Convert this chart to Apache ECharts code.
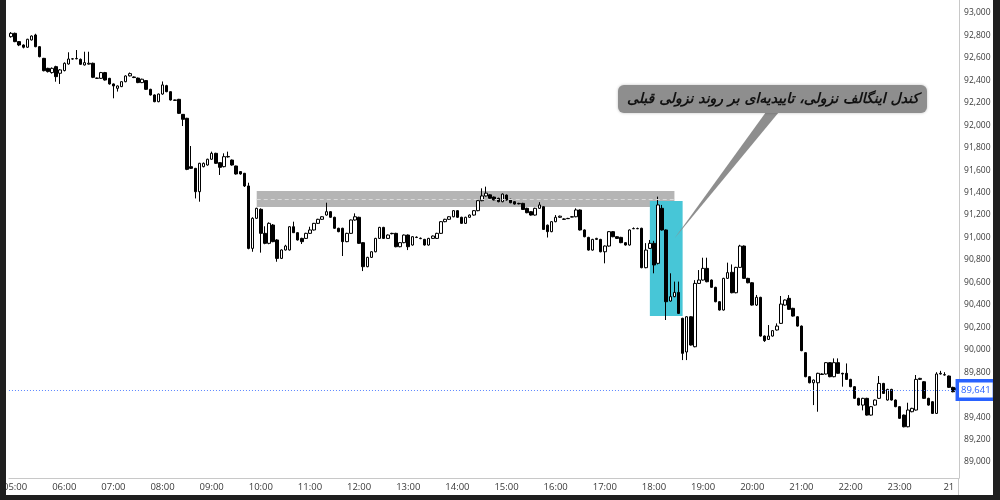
<!DOCTYPE html>
<html>
<head>
<meta charset="utf-8">
<script src="https://cdn.jsdelivr.net/npm/echarts@6/dist/echarts.min.js"></script>
<style>
  html, body { margin: 0; padding: 0; background: #fff; }
  #chart { width: 1000px; height: 500px; }
</style>
</head>
<body>
<div id="chart"></div>
<script>
// ---- DATA (5-minute candles, 04:55 -> 00:10) ----
const startMinute = 4 * 60 + 55;
const candleStep = 5;

const opens = [92789,92819,92745,92715,92695,92760,92804,92700,92596,92507,
92469,92522,92463,92487,92546,92590,92595,92587,92537,92545,
92552,92420,92418,92469,92418,92368,92329,92344,92388,92440,
92430,92420,92380,92398,92320,92270,92210,92278,92353,92299,
92225,92231,92097,92062,91631,91616,91408,91631,91646,91697,
91750,91667,91631,91718,91690,91637,91587,91572,91459,90903,
91171,91251,91037,90948,91111,90978,90814,90889,90889,91096,
91043,90992,90992,91037,91067,91126,91162,91200,91230,91180,
91082,91082,90963,91037,91156,91180,90954,90740,90823,90873,
90992,91090,90992,91037,91037,90918,90954,91022,90933,91003,
90993,90983,90933,90992,90992,91037,91141,91162,91185,91239,
91180,91126,91180,91200,91239,91328,91370,91380,91360,91349,
91319,91378,91340,91319,91304,91304,91260,91230,91200,91260,
91274,91110,91052,91141,91180,91165,91168,91182,91185,91245,
91067,91001,90888,90983,90983,90873,90924,91052,91007,91001,
90954,90933,91078,91078,91082,90731,90903,90948,90770,91260,
91067,90434,90473,90511,90280,89980,90294,90027,90591,90621,
90725,90621,90556,90428,90354,90636,90690,90508,90734,90924,
90636,90597,90398,90467,90122,90092,90122,90176,90235,90398,
90458,90369,90294,90211,89974,89760,89706,89706,89784,89784,
89885,89760,89885,89790,89790,89736,89671,89567,89507,89567,
89418,89507,89567,89700,89552,89647,89552,89493,89418,89314,
89448,89463,89736,89715,89567,89537,89433,89784,89778,89766,
89665,89660];

const highs = [92830,92825,92750,92720,92770,92800,92815,92705,92600,92512,
92515,92530,92500,92560,92650,92598,92670,92595,92655,92655,
92558,92425,92475,92475,92422,92372,92355,92392,92445,92470,
92435,92425,92415,92402,92325,92275,92282,92390,92360,92302,
92228,92235,92100,92066,91815,91620,91665,91668,91702,91765,
91755,91670,91750,91765,91695,91640,91590,91575,91488,91180,
91265,91260,91100,91135,91120,90985,90895,90935,91100,91141,
91048,90998,91042,91096,91130,91167,91190,91310,91235,91185,
91087,91087,91042,91160,91215,91185,90958,90828,90878,90997,
91095,91095,91027,91042,91042,90959,91027,91027,91012,91010,
91000,90988,90997,91018,91042,91146,91167,91190,91244,91244,
91185,91185,91205,91244,91333,91438,91453,91385,91365,91354,
91392,91383,91345,91324,91309,91309,91265,91235,91265,91315,
91279,91115,91146,91200,91195,91170,91175,91190,91260,91250,
91072,91006,90988,90997,90988,90929,91057,91057,91012,91006,
90959,91072,91090,91088,91087,90950,90978,90970,91364,91290,
91072,90681,90607,90607,90285,90299,90299,90620,90710,90820,
90820,90626,90561,90433,90641,90776,90760,90739,90935,90929,
90641,90602,90488,90472,90127,90220,90175,90235,90479,90448,
90487,90374,90299,90216,89979,89765,89735,89795,89790,89890,
89890,89923,89923,89795,89878,89741,89676,89572,89572,89572,
89498,89557,89766,89705,89652,89652,89557,89498,89423,89528,
89483,89775,89750,89720,89572,89542,89800,89812,89800,89771,
89670,89670];

const lows = [92780,92740,92705,92685,92690,92755,92695,92605,92480,92470,
92460,92388,92368,92480,92540,92585,92588,92538,92532,92540,
92420,92412,92412,92398,92362,92240,92300,92340,92383,92435,
92420,92375,92375,92315,92265,92205,92205,92272,92294,92220,
92218,92100,91993,91600,91610,91348,91319,91625,91640,91692,
91655,91557,91625,91712,91640,91560,91560,91450,90895,90873,
91165,90865,90940,90940,90958,90784,90808,90884,90884,91040,
90973,90942,90987,91032,91062,91121,91157,91195,91175,91077,
91047,90835,90958,91032,91150,90943,90701,90735,90818,90868,
90987,90987,90987,91028,90913,90913,90949,90888,90928,90995,
90985,90928,90928,90987,90987,91032,91136,91157,91180,91175,
91121,91121,91175,91195,91234,91323,91365,91345,91330,91314,
91314,91329,91305,91293,91295,91245,91216,91195,91195,91255,
91067,91000,91047,91136,91175,91158,91165,91180,91180,91062,
91002,90883,90883,90978,90868,90770,90919,91002,90987,90949,
90928,90928,91075,91075,90726,90726,90898,90681,90760,91062,
90265,90429,90468,90319,89908,89908,90037,90022,90586,90616,
90601,90551,90423,90349,90349,90631,90503,90503,90729,90631,
90592,90393,90390,90117,90070,90087,90117,90171,90230,90393,
90355,90295,90206,89987,89755,89701,89507,89448,89775,89779,
89755,89755,89785,89671,89731,89666,89562,89502,89460,89413,
89413,89502,89562,89606,89547,89547,89488,89384,89309,89309,
89443,89458,89731,89562,89502,89428,89428,89779,89770,89660,
89621,89620];

const closes = [92819,92745,92715,92695,92766,92795,92700,92611,92486,92478,
92507,92433,92493,92552,92590,92592,92592,92543,92558,92552,
92427,92418,92469,92403,92368,92350,92350,92388,92439,92460,
92425,92380,92410,92320,92270,92210,92278,92359,92299,92225,
92222,92106,92053,91607,91616,91408,91661,91661,91697,91750,
91661,91625,91720,91722,91646,91566,91566,91459,90903,91171,
91260,91037,90948,91126,90963,90814,90889,90924,91096,91043,
90978,90963,91037,91067,91126,91162,91185,91230,91180,91082,
91052,90963,91037,91156,91185,90948,90740,90823,90873,90992,
91090,90992,91022,91034,90918,90954,91022,90918,91007,91000,
90990,90933,90992,91013,91037,91141,91162,91185,91239,91180,
91126,91180,91200,91239,91328,91370,91395,91350,91335,91319,
91387,91334,91310,91298,91300,91250,91221,91200,91260,91290,
91072,91052,91141,91180,91190,91162,91170,91185,91245,91067,
91007,90888,90983,90992,90873,90924,91052,91007,90992,90954,
90933,91067,91080,91080,90731,90888,90948,90755,91290,91067,
90428,90473,90511,90324,89968,90294,90042,90591,90621,90725,
90606,90556,90428,90354,90636,90687,90508,90734,90924,90636,
90597,90398,90467,90122,90081,90122,90170,90211,90407,90443,
90360,90300,90211,89992,89760,89706,89730,89790,89780,89885,
89760,89885,89790,89784,89736,89671,89567,89507,89567,89418,
89493,89552,89700,89611,89647,89552,89493,89389,89314,89463,
89478,89736,89745,89567,89507,89433,89784,89790,89775,89665,
89626,89641];

const tickTimes  = ['05:00','06:00','07:00','08:00','09:00','10:00','11:00','12:00','13:00','14:00','15:00','16:00','17:00','18:00','19:00','20:00','21:00','22:00','23:00','00:00'];
const tickLabels = ['05:00','06:00','07:00','08:00','09:00','10:00','11:00','12:00','13:00','14:00','15:00','16:00','17:00','18:00','19:00','20:00','21:00','22:00','23:00','21'];
const priceTicks = [89000,89200,89400,89600,89800,90000,90200,90400,90600,90800,91000,91200,91400,91600,91800,92000,92200,92400,92600,92800,93000];

// resistance zone (gray) and engulfing zone (cyan)
const resistZone = { from: 60, to: 162, low: 91272, high: 91415, mid: 91345 };
const engulfZone = { from: 156, to: 164, low: 90301, high: 91325 };
const calloutTip = { index: 162, price: 90990 };
const calloutText = 'کندل اینگالف نزولی، تاییدیه‌ای بر روند نزولی قبلی';

// ---- build ----
function pad(n) { return (n < 10 ? '0' : '') + n; }
const times = [];
for (let k = 0; k < closes.length; k++) {
  const m = startMinute + candleStep * k;
  times.push(pad(Math.floor(m / 60) % 24) + ':' + pad(m % 60));
}
const ohlc = closes.map((c, k) => [opens[k], c, lows[k], highs[k]]);
const lastClose = closes[closes.length - 1];
const fmt = v => Number(v).toLocaleString('en-US');

const chart = echarts.init(document.getElementById('chart'), null, { renderer: 'canvas' });

const option = {
  animation: false,
  backgroundColor: '#ffffff',
  grid: { left: 7.85, right: 40.95, top: 0, bottom: 22 },
  xAxis: {
    type: 'category',
    data: times,
    boundaryGap: true,
    axisLine: { show: true, lineStyle: { color: '#c8c8c8', width: 1 } },
    axisTick: { show: false },
    splitLine: { show: false },
    axisLabel: {
      color: '#3a3a3a',
      fontSize: 9.5,
      fontFamily: 'Open Sans',
      margin: 4,
      interval: (idx, val) => tickTimes.indexOf(val) >= 0,
      formatter: val => tickLabels[tickTimes.indexOf(val)]
    }
  },
  yAxis: {
    type: 'value',
    position: 'right',
    min: 88857.5,
    max: 93115.8,
    scale: true,
    axisLine: { show: true, lineStyle: { color: '#c8c8c8', width: 1 } },
    axisTick: { show: false },
    splitLine: { show: false },
    axisLabel: {
      customValues: priceTicks,
      color: '#3a3a3a',
      fontSize: 8.5,
      fontFamily: 'Open Sans',
      margin: 5,
      formatter: v => fmt(v)
    }
  },
  series: [
    {
      type: 'line',
      data: [],
      z: 1,
      silent: true,
      markArea: {
        silent: true,
        data: [
          [
            { xAxis: times[resistZone.from], yAxis: resistZone.high, itemStyle: { color: '#b5b5b5', opacity: 1 } },
            { xAxis: times[resistZone.to], yAxis: resistZone.low }
          ],
          [
            { xAxis: times[engulfZone.from], yAxis: engulfZone.high, itemStyle: { color: '#47c6d7', opacity: 1 } },
            { xAxis: times[engulfZone.to], yAxis: engulfZone.low }
          ]
        ]
      },
      markLine: {
        silent: true,
        symbol: 'none',
        label: { show: false },
        lineStyle: { color: '#dadada', type: [4, 3], width: 1 },
        data: [
          [
            { xAxis: times[resistZone.from], yAxis: resistZone.mid },
            { xAxis: times[resistZone.to], yAxis: resistZone.mid }
          ]
        ]
      }
    },
    {
      type: 'candlestick',
      data: ohlc,
      z: 3,
      barWidth: 3,
      itemStyle: {
        color: '#ffffff',
        color0: '#000000',
        borderColor: '#000000',
        borderColor0: '#000000',
        borderColorDoji: '#000000',
        borderWidth: 1
      },
      markLine: {
        silent: true,
        symbol: 'none',
        lineStyle: { color: '#5b86ff', type: [1, 2], width: 1 },
        label: {
          show: true,
          position: 'end',
          distance: 0,
          formatter: () => fmt(lastClose),
          color: '#2962ff',
          fontSize: 9.5,
          fontFamily: 'Open Sans',
          backgroundColor: '#ffffff',
          borderColor: '#2962ff',
          borderWidth: 3.5,
          padding: [3, 2, 2, 2]
        },
        data: [{ yAxis: lastClose }]
      }
    }
  ]
};
chart.setOption(option);

// callout (pointer computed from data coordinates)
const tip = chart.convertToPixel({ gridIndex: 0 }, [times[calloutTip.index], calloutTip.price]);
chart.setOption({
  graphic: [
    { type: 'polygon', z: 50, shape: { points: [[766, 112], [779, 112], [tip[0], tip[1]]] }, style: { fill: '#8e8e8e' } },
    { type: 'rect', z: 51, shape: { x: 618, y: 85, width: 309, height: 28, r: 6 }, style: { fill: '#8e8e8e', shadowBlur: 3, shadowColor: 'rgba(0,0,0,0.25)' } },
    { type: 'text', z: 52, x: 773, y: 99, style: { text: calloutText, fill: '#111', font: 'italic bold 14px "DejaVu Sans"', align: 'center', verticalAlign: 'middle' } },
    // price-scale divider continuation and screen frame
    { type: 'line', z: 60, shape: { x1: 958.5, y1: 478, x2: 958.5, y2: 495 }, style: { stroke: '#c8c8c8', lineWidth: 1 } },
    { type: 'rect', z: 100, shape: { x: 0, y: 0, width: 6, height: 500 }, style: { fill: '#1f1f1f' } },
    { type: 'rect', z: 100, shape: { x: 993, y: 0, width: 7, height: 500 }, style: { fill: '#1f1f1f' } },
    { type: 'rect', z: 100, shape: { x: 0, y: 495, width: 1000, height: 5 }, style: { fill: '#1f1f1f' } }
  ]
});
</script>
</body>
</html>
